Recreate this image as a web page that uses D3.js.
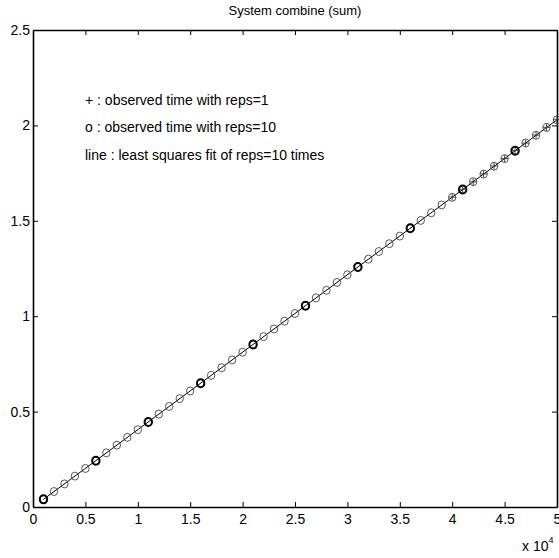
<!DOCTYPE html>
<html><head><meta charset="utf-8">
<script src="https://cdn.jsdelivr.net/npm/d3@7"></script>
<style>
body{margin:0;background:#fff;}
text{font-family:"Liberation Sans",Arial,sans-serif;fill:#000;}
</style></head>
<body>
<svg id="chart" width="559" height="558"></svg>
<script>
// data (x in units of 10^4)
const xReps10 = [0.1,0.2,0.3,0.4,0.5,0.6,0.7,0.8,0.9,1.0,1.1,1.2,1.3,1.4,1.5,1.6,1.7,1.8,1.9,2.0,2.1,2.2,2.3,2.4,2.5,2.6,2.7,2.8,2.9,3.0,3.1,3.2,3.3,3.4,3.5,3.6,3.7,3.8,3.9,4.0,4.1,4.2,4.3,4.4,4.5,4.6,4.7,4.8,4.9,5.0];
const yReps10 = [0.040,0.081,0.121,0.162,0.202,0.243,0.284,0.324,0.365,0.405,0.446,0.487,0.527,0.568,0.608,0.649,0.690,0.730,0.771,0.811,0.852,0.893,0.933,0.974,1.014,1.055,1.096,1.136,1.177,1.217,1.258,1.299,1.339,1.380,1.420,1.461,1.502,1.542,1.583,1.623,1.664,1.705,1.745,1.786,1.826,1.867,1.908,1.948,1.989,2.029];
const xReps1 = [4.0,4.1,4.2,4.3,4.4,4.5,4.6,4.7,4.8,4.9,5.0];
const yReps1 = [1.624,1.665,1.704,1.746,1.787,1.826,1.868,1.907,1.949,1.990,2.030];
const xBold = [0.1,0.6,1.1,1.6,2.1,2.6,3.1,3.6,4.1,4.6];
const yBold = [0.040,0.243,0.446,0.649,0.852,1.055,1.258,1.461,1.664,1.867];
const xTicks = [0,0.5,1,1.5,2,2.5,3,3.5,4,4.5,5];
const yTicks = [0,0.5,1,1.5,2,2.5];
const titleText = "System combine (sum)";
const legendLines = ["+ : observed time with reps=1","o : observed time with reps=10","line : least squares fit of reps=10 times"];

const svg = d3.select("#chart");
const L=33, R=557, T=30, B=507;
const x = d3.scaleLinear().domain([0,5]).range([L,R]);
const y = d3.scaleLinear().domain([0,2.5]).range([B,T]);

// least squares fit
const n = xReps10.length;
const mx = d3.mean(xReps10), my = d3.mean(yReps10);
let sxy=0, sxx=0;
for(let i=0;i<n;i++){sxy+=(xReps10[i]-mx)*(yReps10[i]-my); sxx+=(xReps10[i]-mx)**2;}
const b = sxy/sxx, a = my-b*mx;

// axes
const fmt = d => String(d);
const ax = (g)=>g.selectAll(".domain").attr("stroke","#000").attr("stroke-width",1.6);
svg.append("g").attr("transform",`translate(0,${B})`)
  .call(d3.axisBottom(x).tickValues(xTicks).tickFormat(fmt).tickSizeInner(-5).tickSizeOuter(0).tickPadding(7))
  .call(ax).call(g=>g.selectAll("text").attr("font-size",14).attr("font-family","Liberation Sans, Arial"));
svg.append("g").attr("transform",`translate(0,${T})`)
  .call(d3.axisTop(x).tickValues(xTicks).tickFormat("").tickSizeInner(-5).tickSizeOuter(0))
  .call(ax);
svg.append("g").attr("transform",`translate(${L},0)`)
  .call(d3.axisLeft(y).tickValues(yTicks).tickFormat(fmt).tickSizeInner(-5).tickSizeOuter(0).tickPadding(3))
  .call(ax).call(g=>g.selectAll("text").attr("font-size",14).attr("font-family","Liberation Sans, Arial"));
svg.append("g").attr("transform",`translate(${R},0)`)
  .call(d3.axisRight(y).tickValues(yTicks).tickFormat("").tickSizeInner(-5).tickSizeOuter(0))
  .call(ax);
svg.selectAll(".tick line").attr("stroke","#000").attr("stroke-width",1);

// fit line
svg.append("line")
  .attr("x1",x(xReps10[0])).attr("y1",y(a+b*xReps10[0]))
  .attr("x2",x(xReps10[n-1])).attr("y2",y(a+b*xReps10[n-1]))
  .attr("stroke","#000").attr("stroke-width",1);

// circles
svg.append("g").selectAll("ellipse").data(d3.range(n)).join("ellipse")
  .attr("cx",i=>x(xReps10[i])).attr("cy",i=>y(yReps10[i]))
  .attr("rx",3.7).attr("ry",4)
  .attr("fill","none").attr("stroke","#444").attr("stroke-width",0.9);
svg.append("g").selectAll("ellipse").data(d3.range(xBold.length)).join("ellipse")
  .attr("cx",i=>x(xBold[i])).attr("cy",i=>y(yBold[i]))
  .attr("rx",3.7).attr("ry",4)
  .attr("fill","none").attr("stroke","#000").attr("stroke-width",2);
// plus markers
const pg = svg.append("g");
xReps1.forEach((xv,i)=>{
  const cx=x(xv), cy=y(yReps1[i]), s=3.5;
  pg.append("line").attr("x1",cx-s).attr("x2",cx+s).attr("y1",cy).attr("y2",cy).attr("stroke","#333").attr("stroke-width",0.9);
  pg.append("line").attr("x1",cx).attr("x2",cx).attr("y1",cy-s).attr("y2",cy+s).attr("stroke","#333").attr("stroke-width",0.9);
});

// title
svg.append("text").attr("x",(L+R)/2).attr("y",15).attr("text-anchor","middle").attr("font-size",13).text(titleText);
// legend
legendLines.forEach((t,i)=>{
  svg.append("text").attr("x",85).attr("y",[105,132,160][i]).attr("font-size",14).text(t);
});
// exponent label
const ex = svg.append("text").attr("x",522).attr("y",551).attr("font-size",14);
ex.append("tspan").text("x 10");
ex.append("tspan").attr("dy",-8).attr("font-size",9).text("4");
</script>
</body></html>
